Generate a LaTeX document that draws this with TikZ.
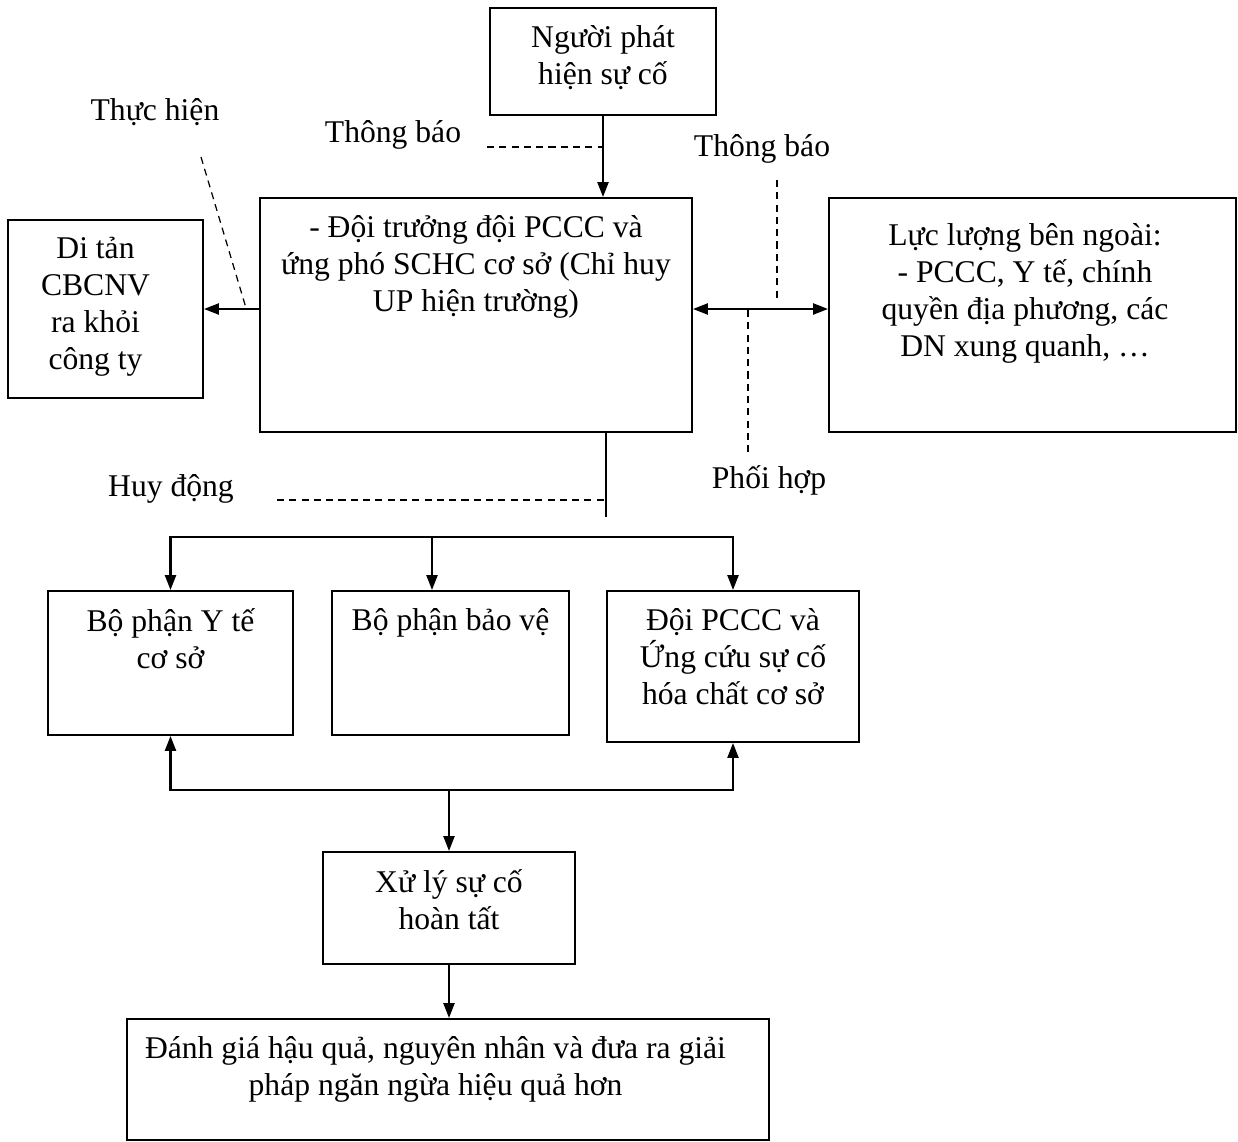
\documentclass[tikz,border=0pt]{standalone}
\usepackage{fontspec}
\setmainfont{Liberation Serif}
\usetikzlibrary{arrows.meta,positioning}

\begin{document}
\begin{tikzpicture}[x=0.02cm, y=-0.02cm,
    box/.style={draw, line width=1.1pt, inner sep=0pt},
    txt/.style={align=center, inner sep=0pt, font=\fontsize{18}{21}\selectfont},
    arr/.style={line width=1.3pt, -{Triangle[length=0.3cm, width=0.22cm]}},
    twoway/.style={line width=1.3pt, {Triangle[length=0.3cm, width=0.22cm]}-{Triangle[length=0.3cm, width=0.22cm]}},
    link/.style={line width=1.3pt},
    hint line/.style={line width=0.7pt, dash pattern=on 4pt off 3pt}]
    \useasboundingbox (0,0) rectangle (1238,1142);

    % Boxes
    \node[box, minimum width=4.52cm, minimum height=2.14cm] (detect) at (603,61.5) {};
    \node[box, minimum width=8.64cm, minimum height=4.68cm] (chief) at (476,315) {};
    \node[box, minimum width=3.90cm, minimum height=3.56cm] (evac) at (105.5,309) {};
    \node[box, minimum width=8.14cm, minimum height=4.68cm] (outside) at (1032.5,315) {};
    \node[box, minimum width=4.90cm, minimum height=2.88cm] (yte) at (170.5,663) {};
    \node[box, minimum width=4.74cm, minimum height=2.88cm] (baove) at (450.5,663) {};
    \node[box, minimum width=5.04cm, minimum height=3.02cm] (pccc) at (733,666.5) {};
    \node[box, minimum width=5.04cm, minimum height=2.24cm] (xuly) at (449,908) {};
    \node[box, minimum width=12.84cm, minimum height=2.42cm] (danhgia) at (448,1079.5) {};

    % Box texts
    \node[txt, below=0.36cm of detect.north] (detect-t) {Người phát\\hiện sự cố};
    \node[txt, below=0.36cm of chief.north] (chief-t) {- Đội trưởng đội PCCC và\\ứng phó SCHC cơ sở (Chỉ huy\\UP hiện trường)};
    \node[txt, below=0.36cm of evac.north, xshift=-0.2cm] (evac-t) {Di tản\\CBCNV\\ra khỏi\\công ty};
    \node[txt, below=0.52cm of outside.north, xshift=-0.15cm] (outside-t) {Lực lượng bên ngoài:\\- PCCC, Y tế, chính\\quyền địa phương, các\\DN xung quanh, …};
    \node[txt, below=0.36cm of yte.north] (yte-t) {Bộ phận Y tế\\cơ sở};
    \node[txt, below=0.36cm of baove.north] (baove-t) {Bộ phận bảo vệ};
    \node[txt, below=0.36cm of pccc.north] (pccc-t) {Đội PCCC và\\Ứng cứu sự cố\\hóa chất cơ sở};
    \node[txt, below=0.36cm of xuly.north] (xuly-t) {Xử lý sự cố\\hoàn tất};
    \node[txt, below=0.36cm of danhgia.north, xshift=-0.25cm] (danhgia-t) {Đánh giá hậu quả, nguyên nhân và đưa ra giải\\pháp ngăn ngừa hiệu quả hơn};

    % Side labels
    \node[txt] (lbl-th) at (155,112) {Thực hiện};
    \node[txt] (lbl-tb1) at (393,135) {Thông báo};
    \node[txt] (lbl-tb2) at (762,149) {Thông báo};
    \node[txt] (lbl-ph) at (769,480) {Phối hợp};
    \node[txt] (lbl-hd) at (171,489) {Huy động};

    % Helper points
    \coordinate (tb1) at (487,147);
    \coordinate (th1) at (201,157);
    \coordinate (th2) at (246,308);
    \coordinate (tb2a) at (777,180);
    \coordinate (tb2b) at (777,300);
    \coordinate (pha) at (748,310);
    \coordinate (phb) at (748,455);
    \coordinate (hd) at (606,517);
    \coordinate (hd1) at (277,500);
    \coordinate (bus1) at (0,537);
    \coordinate (bus2) at (0,790);
    \coordinate (bv) at (432,0);

    % Top part
    \draw[arr] (detect.south) -- (detect.south |- chief.north);
    \draw[hint line] (tb1) -- (tb1 -| detect.south);
    \draw[arr] (chief.west |- evac.east) -- (evac.east);
    \draw[hint line] (th1) -- (th2);
    \draw[twoway] (chief.east |- evac.east) -- (outside.west |- evac.east);
    \draw[hint line] (tb2a) -- (tb2b);
    \draw[hint line] (pha) -- (phb);

    % Mobilise
    \draw[link] (hd |- chief.south) -- (hd);
    \draw[hint line] (hd1) -- (hd1 -| hd);

    % Upper bus
    \draw[arr] (pccc.north |- bus1) -- (yte.north |- bus1) -- (yte.north);
    \draw[arr] (yte.north |- bus1) -- (pccc.north |- bus1) -- (pccc.north);
    \draw[arr] (bv |- bus1) -- (bv |- baove.north);

    % Lower bus
    \draw[arr] (pccc.south |- bus2) -- (yte.south |- bus2) -- (yte.south);
    \draw[arr] (yte.south |- bus2) -- (pccc.south |- bus2) -- (pccc.south);
    \draw[arr] (xuly.north |- bus2) -- (xuly.north);
    \draw[arr] (xuly.south) -- (xuly.south |- danhgia.north);
\end{tikzpicture}
\end{document}
